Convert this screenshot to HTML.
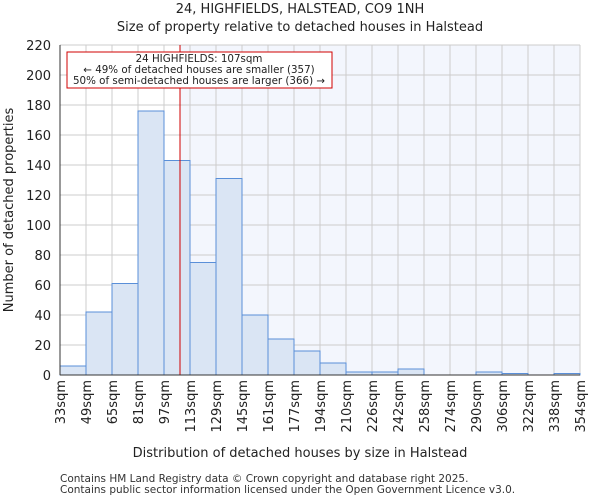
<!DOCTYPE html>
<html><head><meta charset="utf-8"><style>body{margin:0;background:#fff}svg{display:block;font-family:"DejaVu Sans","Liberation Sans",sans-serif}</style></head><body>
<svg width="600" height="500" viewBox="0 0 600 500" xmlns="http://www.w3.org/2000/svg">
<rect x="180" y="45" width="400" height="330" fill="#f3f6fd"/>
<g stroke="#cccccc" stroke-width="1">
<line x1="60" y1="45" x2="580" y2="45"/><line x1="60" y1="75" x2="580" y2="75"/><line x1="60" y1="105" x2="580" y2="105"/><line x1="60" y1="135" x2="580" y2="135"/><line x1="60" y1="165" x2="580" y2="165"/><line x1="60" y1="195" x2="580" y2="195"/><line x1="60" y1="225" x2="580" y2="225"/><line x1="60" y1="255" x2="580" y2="255"/><line x1="60" y1="285" x2="580" y2="285"/><line x1="60" y1="315" x2="580" y2="315"/><line x1="60" y1="345" x2="580" y2="345"/>
<line x1="86" y1="45" x2="86" y2="375"/><line x1="112" y1="45" x2="112" y2="375"/><line x1="138" y1="45" x2="138" y2="375"/><line x1="164" y1="45" x2="164" y2="375"/><line x1="190" y1="45" x2="190" y2="375"/><line x1="216" y1="45" x2="216" y2="375"/><line x1="242" y1="45" x2="242" y2="375"/><line x1="268" y1="45" x2="268" y2="375"/><line x1="294" y1="45" x2="294" y2="375"/><line x1="320" y1="45" x2="320" y2="375"/><line x1="346" y1="45" x2="346" y2="375"/><line x1="372" y1="45" x2="372" y2="375"/><line x1="398" y1="45" x2="398" y2="375"/><line x1="424" y1="45" x2="424" y2="375"/><line x1="450" y1="45" x2="450" y2="375"/><line x1="476" y1="45" x2="476" y2="375"/><line x1="502" y1="45" x2="502" y2="375"/><line x1="528" y1="45" x2="528" y2="375"/><line x1="554" y1="45" x2="554" y2="375"/><line x1="580" y1="45" x2="580" y2="375"/>
</g>
<g fill="#dae5f4" stroke="#5a8fd8" stroke-width="1">
<rect x="60" y="366" width="26" height="9"/>
<rect x="86" y="312" width="26" height="63"/>
<rect x="112" y="283.5" width="26" height="91.5"/>
<rect x="138" y="111" width="26" height="264"/>
<rect x="164" y="160.5" width="26" height="214.5"/>
<rect x="190" y="262.5" width="26" height="112.5"/>
<rect x="216" y="178.5" width="26" height="196.5"/>
<rect x="242" y="315" width="26" height="60"/>
<rect x="268" y="339" width="26" height="36"/>
<rect x="294" y="351" width="26" height="24"/>
<rect x="320" y="363" width="26" height="12"/>
<rect x="346" y="372" width="26" height="3"/>
<rect x="372" y="372" width="26" height="3"/>
<rect x="398" y="369" width="26" height="6"/>
<rect x="476" y="372" width="26" height="3"/>
<rect x="502" y="373.5" width="26" height="1.5"/>
<rect x="554" y="373.5" width="26" height="1.5"/>
</g>
<line x1="180" y1="45" x2="180" y2="375" stroke="#d00000" stroke-width="1"/>
<rect x="67" y="52" width="265" height="36" fill="#fff" stroke="#d00000" stroke-width="1"/>
<g font-size="10.3" text-anchor="middle" fill="#222">
<text x="199" y="62">24 HIGHFIELDS: 107sqm</text>
<text x="199" y="73">← 49% of detached houses are smaller (357)</text>
<text x="199" y="84">50% of semi-detached houses are larger (366) →</text>
</g>
<line x1="60" y1="45" x2="60" y2="375" stroke="#333"/>
<line x1="60" y1="375" x2="580" y2="375" stroke="#333"/>
<g font-size="13" text-anchor="end" fill="#222">
<text x="51" y="50">220</text><text x="51" y="80">200</text><text x="51" y="110">180</text><text x="51" y="140">160</text><text x="51" y="170">140</text><text x="51" y="200">120</text><text x="51" y="230">100</text><text x="51" y="260">80</text><text x="51" y="290">60</text><text x="51" y="320">40</text><text x="51" y="350">20</text><text x="51" y="380">0</text>
</g>
<g font-size="13" text-anchor="end" fill="#222">
<text transform="translate(65,380) rotate(-90)">33sqm</text>
<text transform="translate(91,380) rotate(-90)">49sqm</text>
<text transform="translate(117,380) rotate(-90)">65sqm</text>
<text transform="translate(143,380) rotate(-90)">81sqm</text>
<text transform="translate(169,380) rotate(-90)">97sqm</text>
<text transform="translate(195,380) rotate(-90)">113sqm</text>
<text transform="translate(221,380) rotate(-90)">129sqm</text>
<text transform="translate(247,380) rotate(-90)">145sqm</text>
<text transform="translate(273,380) rotate(-90)">161sqm</text>
<text transform="translate(299,380) rotate(-90)">177sqm</text>
<text transform="translate(325,380) rotate(-90)">194sqm</text>
<text transform="translate(351,380) rotate(-90)">210sqm</text>
<text transform="translate(377,380) rotate(-90)">226sqm</text>
<text transform="translate(403,380) rotate(-90)">242sqm</text>
<text transform="translate(429,380) rotate(-90)">258sqm</text>
<text transform="translate(455,380) rotate(-90)">274sqm</text>
<text transform="translate(481,380) rotate(-90)">290sqm</text>
<text transform="translate(507,380) rotate(-90)">306sqm</text>
<text transform="translate(533,380) rotate(-90)">322sqm</text>
<text transform="translate(559,380) rotate(-90)">338sqm</text>
<text transform="translate(585,380) rotate(-90)">354sqm</text>
</g>
<g font-size="13" text-anchor="middle" fill="#222">
<text x="300" y="13">24, HIGHFIELDS, HALSTEAD, CO9 1NH</text>
<text x="300" y="31">Size of property relative to detached houses in Halstead</text>
<text x="300" y="457">Distribution of detached houses by size in Halstead</text>
<text transform="translate(13,210) rotate(-90)">Number of detached properties</text>
</g>
<g font-size="10.5" fill="#333">
<text x="60" y="482">Contains HM Land Registry data © Crown copyright and database right 2025.</text>
<text x="60" y="493">Contains public sector information licensed under the Open Government Licence v3.0.</text>
</g>
</svg>
</body></html>
